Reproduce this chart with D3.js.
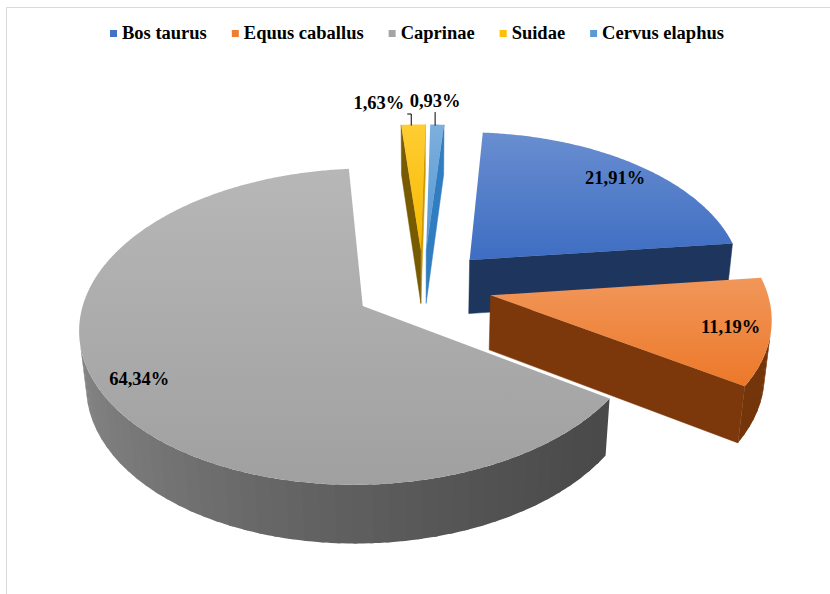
<!DOCTYPE html>
<html>
<head>
<meta charset="utf-8">
<script src="https://cdn.jsdelivr.net/npm/d3@7"></script>
<style>
  body { margin: 0; background: #fff; }
  text { font-family: "Liberation Serif", "Times New Roman", serif; font-weight: bold; }
</style>
</head>
<body>
<div id="pieChart"></div>
<script>
var categories = ["Bos taurus", "Equus caballus", "Caprinae", "Suidae", "Cervus elaphus"];
var values = [21.91, 11.19, 64.34, 1.63, 0.93];
var labels = ["21,91%", "11,19%", "64,34%", "1,63%", "0,93%"];
var colors = ["#4472C4", "#ED7D31", "#A5A5A5", "#FFC000", "#5B9BD5"];

var width = 830;
var height = 594;
var fontSize = '18.5px';

var svg = d3.select('#pieChart')
            .append('svg')
            .attr('width', width)
            .attr('height', height);

// chart area border (right and bottom edges fall outside the picture)
svg.append('path')
   .attr('d', 'M6.5,' + height + 'V7.5H' + width)
   .attr('fill', 'none')
   .attr('stroke', '#d9d9d9');

// 3d view settings
var tilt = 33.1 * Math.PI / 180;
var camDist = 6.53;
var focal = 1799;
var origin = [423, 286.5];
var thick = 0.24;
var explode = 0.25;
var firstAngle = 4.4 * Math.PI / 180;
var deg = Math.PI / 180;

var cam = [0, -camDist * Math.cos(tilt), camDist * Math.sin(tilt)];

function project(p) {
  var yc = p[1] * Math.sin(tilt) + p[2] * Math.cos(tilt);
  var zc = p[1] * Math.cos(tilt) - p[2] * Math.sin(tilt) + camDist;
  return [origin[0] + focal * p[0] / zc, origin[1] - focal * yc / zc];
}

var pie = d3.pie()
            .sort(null)
            .value(function(d){ return d; })
            .startAngle(firstAngle)
            .endAngle(firstAngle + 2 * Math.PI);
var arcs = pie(values);

var line = d3.line().curve(d3.curveLinearClosed);

function shade(base, k) {
  var c = d3.hsl(base);
  c.l = c.l * k;
  return c.formatHex();
}
// light comes from the left-front
function wallK(a) {
  return 0.64 + 0.2 * Math.cos(a - 290 * deg);
}
function cutK(a) {
  return 0.47 + 0.33 * Math.pow(Math.max(0, Math.cos(a - Math.PI / 2)), 4);
}

var defs = svg.append('defs');
colors.forEach(function(c, i){
  var g = defs.append('linearGradient')
              .attr('id', 'top' + i)
              .attr('x1', 0).attr('y1', 0).attr('x2', 0).attr('y2', 1);
  g.append('stop').attr('offset', '0%').attr('stop-color', d3.interpolateRgb(c, '#fff')(0.2));
  g.append('stop').attr('offset', '100%').attr('stop-color', shade(c, 0.97));
});

var faces = [];
var tops = [];

function addFace(pts, normal, fill, seam) {
  var cx = d3.mean(pts, function(p){ return p[0]; });
  var cy = d3.mean(pts, function(p){ return p[1]; });
  var cz = d3.mean(pts, function(p){ return p[2]; });
  var v = [cam[0] - cx, cam[1] - cy, cam[2] - cz];
  if (v[0] * normal[0] + v[1] * normal[1] <= 0) return;
  faces.push({
    pts: pts.map(project),
    dist: Math.sqrt(v[0] * v[0] + v[1] * v[1] + v[2] * v[2]),
    fill: fill,
    seam: seam
  });
}

arcs.forEach(function(d, i){
  var mid = (d.startAngle + d.endAngle) / 2;
  var ox = explode * Math.sin(mid);
  var oy = explode * Math.cos(mid);
  function P(a, r, z) { return [ox + r * Math.sin(a), oy + r * Math.cos(a), z]; }
  d.P = P;

  // outer wall in strips, each one a little wider so no seams show
  var span = d.endAngle - d.startAngle;
  var n = Math.max(2, Math.ceil(span / (3 * deg)));
  for (var k = 0; k < n; k++) {
    var a0 = d.startAngle + span * k / n;
    var a1 = d.startAngle + span * (k + 1) / n;
    var am = (a0 + a1) / 2;
    var b0 = Math.max(d.startAngle, a0 - 0.4 * deg);
    var b1 = Math.min(d.endAngle, a1 + 0.4 * deg);
    var strip = [];
    for (var s = 0; s <= 4; s++) strip.push(P(b0 + (b1 - b0) * s / 4, 1, 0));
    for (s = 4; s >= 0; s--) strip.push(P(b0 + (b1 - b0) * s / 4, 1, -thick));
    addFace(strip, [Math.sin(am), Math.cos(am)], shade(colors[i], wallK(am)), false);
  }

  // cut faces
  var c0 = P(0, 0, 0), c1 = P(0, 0, -thick);
  var ns = d.startAngle - Math.PI / 2;
  var ne = d.endAngle + Math.PI / 2;
  addFace([c0, P(d.startAngle, 1, 0), P(d.startAngle, 1, -thick), c1],
          [Math.sin(ns), Math.cos(ns)], shade(colors[i], cutK(ns)), true);
  addFace([c0, P(d.endAngle, 1, 0), P(d.endAngle, 1, -thick), c1],
          [Math.sin(ne), Math.cos(ne)], shade(colors[i], cutK(ne)), true);

  // top face
  var pts = [project(c0)];
  var m = Math.max(2, Math.ceil(span / (0.5 * deg)));
  for (var j = 0; j <= m; j++) {
    pts.push(project(P(d.startAngle + span * j / m, 1, 0)));
  }
  tops.push({pts: pts, i: i});
});

faces.sort(function(a, b){ return b.dist - a.dist; });

var pieGroup = svg.append('g');

pieGroup.selectAll('path.side')
        .data(faces)
        .enter()
        .append('path')
        .attr('class', 'side')
        .attr('d', function(f){ return line(f.pts); })
        .attr('fill', function(f){ return f.fill; })
        .attr('stroke', function(f){ return f.seam ? f.fill : 'none'; })
        .attr('stroke-width', 0.5);

pieGroup.selectAll('path.top')
        .data(tops)
        .enter()
        .append('path')
        .attr('class', 'top')
        .attr('d', function(t){ return line(t.pts); })
        .attr('fill', function(t){ return 'url(#top' + t.i + ')'; });

// data labels
var labelGroup = svg.append('g');
arcs.forEach(function(d, i){
  var mid = (d.startAngle + d.endAngle) / 2;
  if (d.value >= 5) {
    var p = project(d.P(mid, 0.86, 0));
    labelGroup.append('text')
              .attr('x', p[0])
              .attr('y', p[1])
              .attr('dy', '0.35em')
              .attr('text-anchor', 'middle')
              .style('font-size', fontSize)
              .attr('fill', '#000')
              .text(labels[i]);
  } else {
    var q = project(d.P(mid, 1, 0));
    var leftSide = Math.sin(mid) < 0;
    var path = leftSide
      ? 'M' + (q[0] - 2) + ',' + (q[1] + 1) + 'V' + (q[1] - 10.5) + 'h-4'
      : 'M' + (q[0] - 2) + ',' + (q[1] + 1) + 'V' + (q[1] - 12.5);
    labelGroup.append('path')
              .attr('d', path)
              .attr('fill', 'none')
              .attr('stroke', '#000')
              .attr('stroke-width', 1);
    labelGroup.append('text')
              .attr('x', leftSide ? q[0] - 9 : q[0] - 2)
              .attr('y', leftSide ? q[1] - 15.5 : q[1] - 17.5)
              .attr('text-anchor', leftSide ? 'end' : 'middle')
              .style('font-size', fontSize)
              .attr('fill', '#000')
              .text(labels[i]);
  }
});

// legend
var legend = svg.append('g').attr('transform', 'translate(110,39)');
var xPos = 0;
categories.forEach(function(c, i){
  var item = legend.append('g').attr('transform', 'translate(' + xPos + ',0)');
  item.append('rect')
      .attr('x', 0).attr('y', -9)
      .attr('width', 7).attr('height', 7)
      .attr('fill', colors[i]);
  var t = item.append('text')
              .attr('x', 12)
              .style('font-size', fontSize)
              .attr('fill', '#000')
              .text(c);
  xPos += 12 + t.node().getComputedTextLength() + 25;
});
</script>
</body>
</html>
